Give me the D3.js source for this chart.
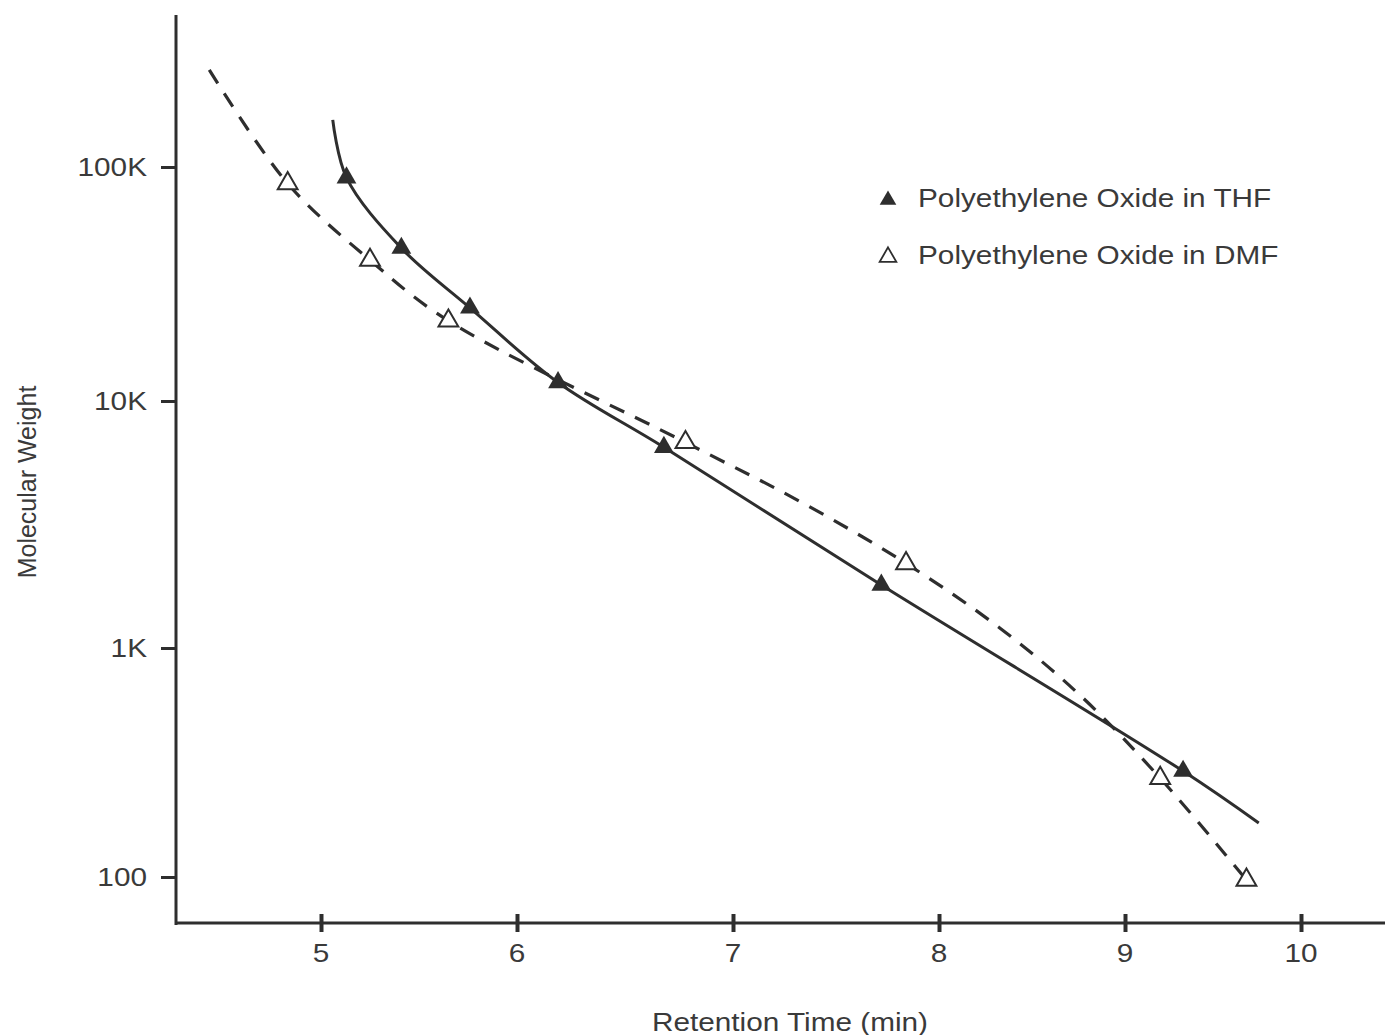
<!DOCTYPE html>
<html>
<head>
<meta charset="utf-8">
<script src="https://cdn.jsdelivr.net/npm/d3@7"></script>
<style>
  html, body { margin: 0; padding: 0; background: #fff; }
  svg { display: block; }
  text { font-family: "Liberation Sans", Arial, sans-serif; fill: #3a3a3a; }
</style>
</head>
<body>
<svg id="chart" width="1385" height="1035"></svg>
<script>
// ---- data ----
const timeTicks = [5, 6, 7, 8, 9, 10];
const timeTickLabels = ["5", "6", "7", "8", "9", "10"];
const mwTicks = [100, 1000, 10000, 100000];
const mwTickLabels = ["100", "1K", "10K", "100K"];

// Polyethylene Oxide in THF (filled triangles, solid curve)
const thfTime = [5.13, 5.41, 5.76, 6.19, 6.68, 7.72, 9.33];
const thfMW   = [90000, 45000, 25000, 12000, 6500, 1800, 290];
// solid calibration curve as traced on the picture
const thfCurveTime = [5.06, 5.13, 5.41, 5.76, 6.19, 6.68, 7.72, 9.33, 9.76];
const thfCurveMW   = [159000, 90000, 45000, 25000, 12000, 6500, 1800, 290, 172];

// Polyethylene Oxide in DMF (open triangles, dashed curve)
const dmfTime = [4.83, 5.25, 5.65, 6.78, 7.84, 9.20, 9.69];
const dmfMW   = [85000, 40000, 22000, 6800, 2200, 270, 97];
// dashed calibration curve as traced on the picture
const dmfCurveTime = [4.43, 4.83, 5.25, 5.65, 6.78, 7.33, 7.84, 8.33, 8.76, 9.20, 9.69];
const dmfCurveMW   = [260000, 85000, 40000, 22000, 6800, 3900, 2200, 1200, 620, 270, 97];

const seriesNames = ["Polyethylene Oxide in THF", "Polyethylene Oxide in DMF"];
const xTitle = "Retention Time (min)";
const yTitle = "Molecular Weight";

// ---- layout ----
const svg = d3.select("#chart");
const ink = "#2e2e2e";
const stretch = 1.19;   // scanned original is horizontally stretched
const fontSize = 25;

// piecewise scales follow the (slightly uneven) tick spacing of the scanned axes
const x = d3.scaleLinear().domain(timeTicks).range([321, 517, 733, 939, 1125, 1301]);
const y = d3.scaleLog().domain(mwTicks).range([877, 648, 401, 167]);

const axisX0 = 176, axisY0 = 923, axisTop = 15, axisRight = 1385;

function stretchedText(g, px, py, str, anchor) {
  return g.append("text")
    .attr("transform", `translate(${px},${py}) scale(${stretch},1)`)
    .attr("text-anchor", anchor)
    .style("font-size", fontSize + "px")
    .text(str);
}

// ---- axes ----
const axes = svg.append("g");
axes.append("line")
  .attr("x1", axisX0).attr("x2", axisX0)
  .attr("y1", axisTop).attr("y2", axisY0 + 2)
  .attr("stroke", ink).attr("stroke-width", 3);
axes.append("line")
  .attr("x1", axisX0 - 1).attr("x2", axisRight)
  .attr("y1", axisY0).attr("y2", axisY0)
  .attr("stroke", ink).attr("stroke-width", 3);

const yAxis = d3.axisLeft(y).tickValues(mwTicks).tickSize(15).tickFormat("");
const yG = svg.append("g").attr("transform", `translate(${axisX0},0)`).call(yAxis);
yG.select(".domain").remove();
yG.selectAll(".tick line").attr("stroke", ink).attr("stroke-width", 3);
mwTicks.forEach((v, i) => {
  stretchedText(svg, 147, y(v) + 9, mwTickLabels[i], "end");
});

const xAxis = d3.axisBottom(x).tickValues(timeTicks).tickSize(8).tickFormat("");
const xG = svg.append("g").attr("transform", `translate(0,${axisY0})`).call(xAxis);
xG.select(".domain").remove();
xG.selectAll(".tick line").attr("y1", -9).attr("y2", 9)
  .attr("stroke", ink).attr("stroke-width", 4);
timeTicks.forEach((v, i) => {
  stretchedText(svg, x(v), 962, timeTickLabels[i], "middle");
});

stretchedText(svg, 790, 1031, xTitle, "middle");
svg.append("text")
  .attr("transform", `translate(36,482) rotate(-90)`)
  .attr("text-anchor", "middle")
  .style("font-size", fontSize + "px")
  .text(yTitle);

// ---- curves ----
const line = d3.line()
  .x(d => x(d[0])).y(d => y(d[1]))
  .curve(d3.curveCatmullRom.alpha(0.5));

const thfPts = thfTime.map((t, i) => [t, thfMW[i]]);
const dmfPts = dmfTime.map((t, i) => [t, dmfMW[i]]);
const thfCurve = thfCurveTime.map((t, i) => [t, thfCurveMW[i]]);
const dmfCurve = dmfCurveTime.map((t, i) => [t, dmfCurveMW[i]]);

svg.append("path").datum(dmfCurve)
  .attr("d", line).attr("fill", "none")
  .attr("stroke", ink).attr("stroke-width", 3.2)
  .attr("stroke-dasharray", "16,12");

svg.append("path").datum(thfCurve)
  .attr("d", line).attr("fill", "none")
  .attr("stroke", ink).attr("stroke-width", 3);

// ---- markers ----
const tri = d3.symbol().type(d3.symbolTriangle).size(170);
svg.append("g").selectAll("path").data(dmfPts).join("path")
  .attr("transform", d => `translate(${x(d[0])},${y(d[1])})`)
  .attr("d", tri).attr("fill", "#fff").attr("stroke", ink).attr("stroke-width", 2);
svg.append("g").selectAll("path").data(thfPts).join("path")
  .attr("transform", d => `translate(${x(d[0])},${y(d[1])})`)
  .attr("d", tri).attr("fill", ink);

// ---- legend ----
const legTri = d3.symbol().type(d3.symbolTriangle).size(120);
const legend = svg.append("g");
legend.append("path").attr("transform", "translate(888,200)")
  .attr("d", legTri).attr("fill", ink);
stretchedText(legend, 918, 207, seriesNames[0], "start");
legend.append("path").attr("transform", "translate(888,257)")
  .attr("d", legTri).attr("fill", "#fff").attr("stroke", ink).attr("stroke-width", 1.8);
stretchedText(legend, 918, 264, seriesNames[1], "start");
</script>
</body>
</html>
